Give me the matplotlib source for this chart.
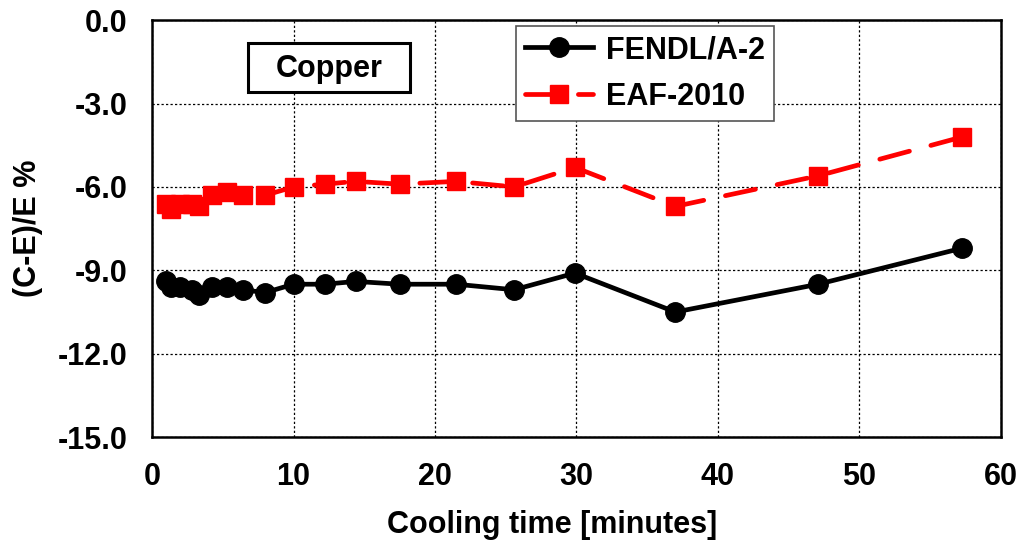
import matplotlib
matplotlib.use('Agg')
import matplotlib.pyplot as plt
from matplotlib.patches import Rectangle

# Cooling times (minutes) and (C-E)/E deviations for the copper foil
cooling_time = [1.0, 1.33, 2.0, 2.8, 3.3, 4.2, 5.3, 6.4, 8.0, 10.0, 12.2, 14.4,
                17.5, 21.5, 25.6, 29.9, 37.0, 47.1, 57.3]
fendl = [-9.4, -9.6, -9.6, -9.7, -9.9, -9.6, -9.6, -9.7, -9.8, -9.5, -9.5, -9.4,
         -9.5, -9.5, -9.7, -9.1, -10.5, -9.5, -8.2]
eaf = [-6.6, -6.8, -6.6, -6.6, -6.7, -6.3, -6.2, -6.3, -6.3, -6.0, -5.9, -5.8,
       -5.9, -5.8, -6.0, -5.3, -6.7, -5.6, -4.2]

x_ticks = [0, 10, 20, 30, 40, 50, 60]
y_ticks = [0.0, -3.0, -6.0, -9.0, -12.0, -15.0]

plt.rcParams['font.family'] = ['Liberation Sans', 'DejaVu Sans']
plt.rcParams['font.weight'] = 'bold'

fig = plt.figure(figsize=(10.21, 5.45), dpi=100)
ax = fig.add_axes([0.149, 0.198, 0.831, 0.765])

ax.plot(cooling_time, fendl, color='black', lw=3.4, marker='o', ms=14,
        label='FENDL/A-2', zorder=3)
ax.plot(cooling_time, eaf, color='red', lw=3.4, marker='s', ms=13,
        dashes=(6.5, 4.7), dash_capstyle='round', label='EAF-2010', zorder=3)

ax.set_xlim(0, 60)
ax.set_ylim(-15, 0)
ax.set_xticks(x_ticks)
ax.set_yticks(y_ticks)
ax.set_yticklabels([f'{v:.1f}' for v in y_ticks])
ax.tick_params(length=0, labelsize=22, pad=18)
for lab in ax.get_xticklabels() + ax.get_yticklabels():
    lab.set_fontweight('bold')

ax.grid(True, color='black', lw=0.9, linestyle=(0, (1.8, 1.8)))
for sp in ax.spines.values():
    sp.set_linewidth(1.8)

ax.set_xlabel('Cooling time [minutes]', fontsize=22, fontweight='bold', labelpad=12)
ax.xaxis.set_label_coords(0.472, -0.175)
ax.set_ylabel('(C-E)/E %', fontsize=22, fontweight='bold', labelpad=10)

# boxed material label
ax.add_patch(Rectangle((0.113, 0.827), 0.191, 0.118, transform=ax.transAxes,
                       fc='white', ec='black', lw=2.2, zorder=4))
ax.text(0.2085, 0.884, 'Copper', transform=ax.transAxes, fontsize=22,
        fontweight='bold', ha='center', va='center', zorder=5)

leg = ax.legend(loc='upper left', bbox_to_anchor=(0.429, 0.986), borderaxespad=0,
                fontsize=22, handlelength=2.2, handletextpad=0.45, fancybox=False,
                framealpha=1, edgecolor='#555555', borderpad=0.3, labelspacing=0.55)
leg.get_frame().set_linewidth(1.2)
for t in leg.get_texts():
    t.set_fontweight('bold')

fig.savefig('out.png', dpi=100)
